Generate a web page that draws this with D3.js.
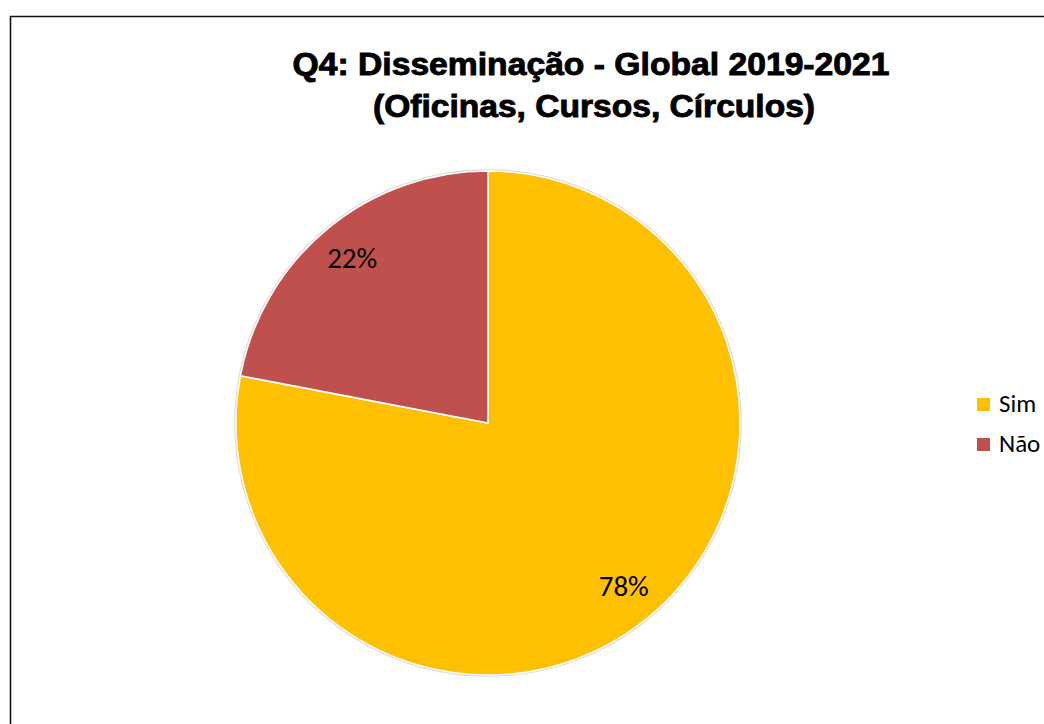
<!DOCTYPE html>
<html><head><meta charset="utf-8">
<script src="https://cdn.jsdelivr.net/npm/d3@7"></script>
<style>body{margin:0;background:#fff}svg{display:block}</style>
</head><body>
<script>
const categories = ["Sim", "Não"];
const values = [78, 22];
const colors = ["#FFC000", "#C0504D"];
const titleLines = ["Q4: Disseminação - Global 2019-2021", "(Oficinas, Cursos, Círculos)"];

const W = 1044, H = 724;
const svg = d3.select("body").append("svg").attr("width", W).attr("height", H);
svg.append("rect").attr("width", W).attr("height", H).attr("fill", "#fff");
// chart border
svg.append("path").attr("d", `M10.5,${H+5} V16.5 H${W+5}`).attr("fill", "none").attr("stroke", "#111").attr("stroke-width", 1.6);

const titleX = [591, 594], titleLen = [597, 442];
svg.append("g").selectAll("text").data(titleLines).join("text")
  .attr("x", (d, i) => titleX[i]).attr("y", (d, i) => 75 + i * 42)
  .attr("text-anchor", "middle")
  .attr("textLength", (d, i) => titleLen[i]).attr("lengthAdjust", "spacingAndGlyphs")
  .attr("font-family", "Liberation Sans, Arial, sans-serif").attr("font-weight", "bold")
  .attr("font-size", 31).attr("fill", "#000").attr("stroke", "#000").attr("stroke-width", 0.9)
  .text(d => d);

const cx = 488, cy = 423, R = 252;
const pie = d3.pie().sort(null).value(d => d)(values);
const arc = d3.arc().innerRadius(0).outerRadius(R);
const labelArc = d3.arc().innerRadius(213).outerRadius(213);
const g = svg.append("g").attr("transform", `translate(${cx},${cy})`);
g.append("circle").attr("r", R + 1).attr("fill", "none").attr("stroke", "#d9d9d9").attr("stroke-width", 1.5);
g.selectAll("path.slice").data(pie).join("path").attr("class", "slice")
  .attr("d", arc).attr("fill", (d, i) => colors[i]).attr("stroke", "#fff").attr("stroke-width", 1.5);
g.selectAll("text.lbl").data(pie).join("text").attr("class", "lbl")
  .attr("transform", d => `translate(${labelArc.centroid(d)})`)
  .attr("text-anchor", "middle").attr("dy", "0.32em")
  .attr("font-family", "Carlito, Open Sans, sans-serif").attr("font-size", 29).attr("fill", "#000")
  .text(d => d.data + "%");

const lg = svg.append("g").selectAll("g").data(categories).join("g")
  .attr("transform", (d, i) => `translate(977,${398 + i * 40})`);
lg.append("rect").attr("width", 13).attr("height", 13).attr("fill", (d, i) => colors[i]);
lg.append("text").attr("x", 22).attr("y", 6.5).attr("dy", "0.3em")
  .attr("font-family", "Carlito, Open Sans, sans-serif").attr("font-size", 25).attr("fill", "#000").text(d => d);
</script>
</body></html>
